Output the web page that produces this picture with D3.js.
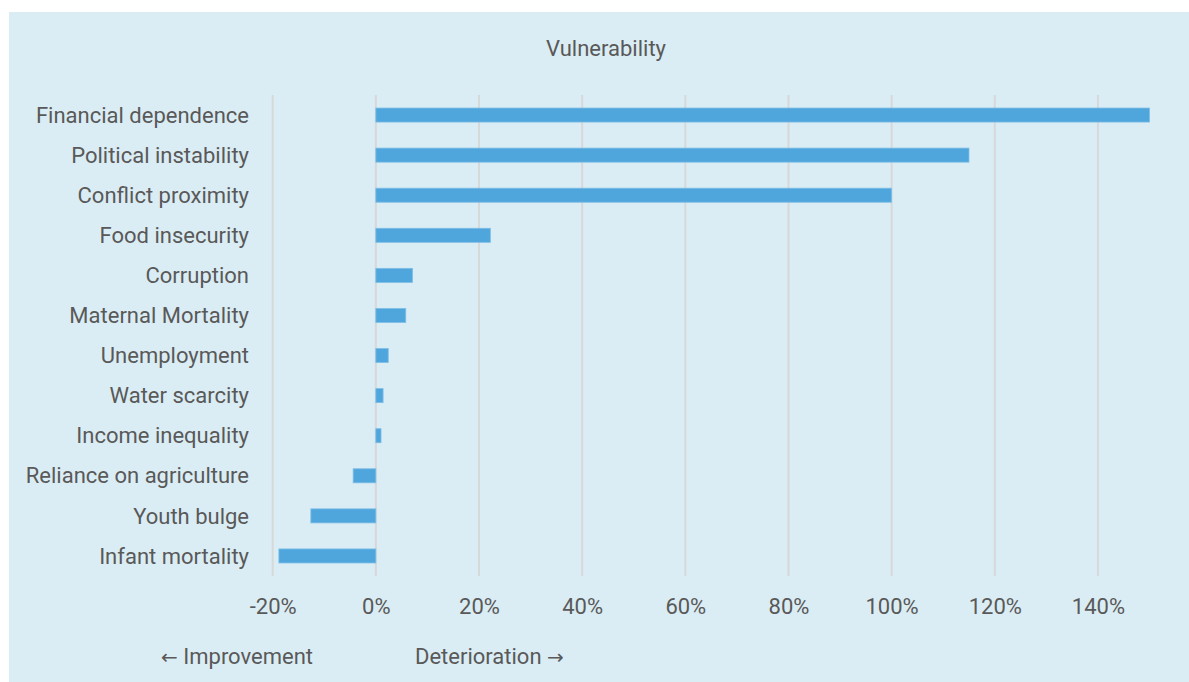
<!DOCTYPE html>
<html>
<head>
<meta charset="utf-8">
<script src="https://cdn.jsdelivr.net/npm/d3@7"></script>
<style>
  html, body { margin: 0; padding: 0; background: #ffffff; }
  svg { display: block; }
  text { font-family: "Roboto", "Liberation Sans", sans-serif; fill: #595959; }
</style>
</head>
<body>
<svg id="chart" width="1189" height="682"></svg>
<script>
const categories = ["Financial dependence", "Political instability", "Conflict proximity", "Food insecurity",
  "Corruption", "Maternal Mortality", "Unemployment", "Water scarcity", "Income inequality",
  "Reliance on agriculture", "Youth bulge", "Infant mortality"];
const values = [150, 115, 100, 22.2, 7.1, 5.8, 2.4, 1.4, 1.0, -4.4, -12.6, -18.8];
const tickValues = [-20, 0, 20, 40, 60, 80, 100, 120, 140];
const title = "Vulnerability";
const leftArrow = "\u2190", leftNote = " Improvement";
const rightNote = "Deterioration ", rightArrow = "\u2192";

const svg = d3.select("#chart");
const W = 1189, H = 682;

svg.append("rect").attr("x", 9).attr("y", 12).attr("width", W - 9).attr("height", H - 12).attr("fill", "#dbedf4");

const x = d3.scaleLinear().domain([-20, 150]).range([272.7, 1149.5]);
const y = d3.scaleBand().domain(categories).range([95, 576]).paddingInner(0.65).paddingOuter(0.325);

const fs = 22;

// gridlines
svg.append("g").selectAll("line").data(tickValues).join("line")
  .attr("x1", d => x(d)).attr("x2", d => x(d))
  .attr("y1", 95).attr("y2", 576)
  .attr("stroke", "#d6d8d9").attr("stroke-width", 2);

// bars
svg.append("g").selectAll("rect").data(values).join("rect")
  .attr("x", d => x(Math.min(0, d)))
  .attr("width", d => Math.abs(x(d) - x(0)))
  .attr("y", (d, i) => y(categories[i]))
  .attr("height", y.bandwidth())
  .attr("fill", "#4fa6dc")
  .attr("stroke", "#7dbde6").attr("stroke-width", 0.8);

// category axis
const yAxis = d3.axisLeft(y).tickSize(0).tickPadding(0);
const gy = svg.append("g").attr("transform", "translate(249,0)").call(yAxis);
gy.select(".domain").remove();
gy.attr("font-family", null).attr("font-size", null);
gy.selectAll("text").style("font-size", fs + "px").attr("fill", "#595959").attr("dy", "0.35em");

// x axis
const xAxis = d3.axisBottom(x).tickValues(tickValues).tickSize(0).tickPadding(0).tickFormat(d => d + "%");
const gx = svg.append("g").attr("transform", "translate(0,601)").call(xAxis);
gx.select(".domain").remove();
gx.attr("font-family", null).attr("font-size", null);
gx.selectAll("text").style("font-size", fs + "px").attr("fill", "#595959").attr("dy", "0.6em");

// title
svg.append("text").attr("x", 606).attr("y", 56).attr("text-anchor", "middle")
  .style("font-size", fs + "px").text(title);

// notes
const ln = svg.append("text").attr("x", 313).attr("y", 664).attr("text-anchor", "end").style("font-size", fs + "px");
ln.append("tspan").style("font-family", "'DejaVu Sans'").style("font-size", "20px").text(leftArrow);
ln.append("tspan").text(leftNote);
const rn = svg.append("text").attr("x", 415).attr("y", 664).attr("text-anchor", "start").style("font-size", fs + "px");
rn.append("tspan").text(rightNote);
rn.append("tspan").style("font-family", "'DejaVu Sans'").style("font-size", "20px").text(rightArrow);
</script>
</body>
</html>
